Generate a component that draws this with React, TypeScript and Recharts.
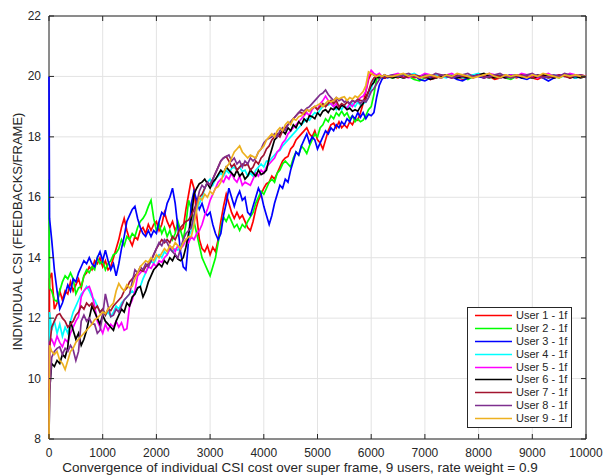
import React from 'react';
import { LineChart, Line, XAxis, YAxis, CartesianGrid, Legend, ReferenceArea } from 'recharts';

const INK = '#262626';
const FONT = '"Liberation Sans", Arial, Helvetica, sans-serif';
const PLOT_TOP = 16;
const PLOT_BOTTOM = 439;
const TICK_LEN = 5;

// super frame index: dense while the users converge, coarser once flat
const frames = [
  0,
  10,
  ...Array.from({ length: 126 }, (_, i) => 50 + 50 * i),
  ...Array.from({ length: 37 }, (_, i) => 6400 + 100 * i),
];

const xTicks = [0, 1000, 2000, 3000, 4000, 5000, 6000, 7000, 8000, 9000, 10000];
const yTicks = [8, 10, 12, 14, 16, 18, 20, 22];

const user1 = [
  8, 13.3,
  13.5, 12.3, 12.5, 12.9, 12.6, 12.9, 12.8, 13.2, 12.9, 13.1,
  13.3, 13.0, 13.4, 13.5, 13.7, 13.6, 13.9, 13.8, 14.0, 13.7,
  13.9, 13.6, 13.7, 14.0, 14.3, 14.6, 15.0, 15.3, 14.9, 14.6,
  14.4, 14.7, 14.6, 14.9, 15.0, 14.8, 15.1, 14.9, 15.1, 15.2,
  14.9, 15.1, 15.5, 15.2, 15.0, 15.2, 14.9, 15.1, 14.9, 15.0,
  15.6, 16.1, 16.6, 16.3, 15.4, 14.6, 14.3, 14.2, 14.4, 14.1,
  14.35, 14.2, 14.6, 15.2, 15.7, 16.1, 15.8, 15.5, 15.3, 15.5,
  15.3, 15.4, 15.2, 15.0, 14.9, 15.2, 15.6, 15.9, 16.1, 16.3,
  16.45, 16.5, 16.7, 16.6, 16.8, 17.0, 17.2, 17.3, 17.35, 17.6,
  17.7, 17.9, 18.0, 18.1, 18.2, 18.3, 18.1, 18.0, 18.2, 17.9,
  17.8, 17.6, 17.9, 18.2, 18.4, 18.45, 18.3, 18.5, 18.3, 18.4,
  18.3, 18.5, 18.4, 18.6, 18.55, 18.8, 19.1, 19.5, 19.9, 20.1,
  20.05, 20.0, 20.05, 20.0, 19.95, 20.0,
  20.0, 19.95, 20.05, 20.0, 19.95, 20.0, 20.05, 19.9, 19.95, 20.0,
  20.05, 19.95, 20.0, 19.9, 19.95, 20.05, 20.0, 19.95, 20.0, 19.9,
  19.95, 20.0, 20.05, 19.95, 20.0, 20.05, 19.95, 19.9, 20.0, 20.05,
  19.95, 20.0, 20.05, 19.95, 20.0, 20.05, 20.0,
];

const user2 = [
  16.6, 13.0,
  12.9, 12.6, 12.55, 12.9, 13.2, 13.4, 13.3, 13.5, 13.3, 12.8,
  13.0, 13.05, 13.4, 13.6, 13.5, 13.7, 13.6, 14.0, 13.8, 13.9,
  13.6, 13.8, 13.9, 14.1, 14.15, 14.3, 14.6, 14.4, 14.7, 14.6,
  14.8, 14.7, 15.0, 15.2, 15.3, 15.45, 15.7, 15.9, 15.3, 14.9,
  15.1, 14.8, 15.0, 14.7, 14.9, 14.6, 14.8, 15.2, 14.9, 14.6,
  15.1, 15.9, 15.6, 15.2, 14.8, 14.4, 14.0, 13.8, 13.6, 13.4,
  13.7, 14.0, 14.5, 15.0, 15.35, 15.2, 15.4, 15.2, 15.0, 15.1,
  14.9, 15.1, 15.0, 15.2, 15.35, 15.5, 15.8, 16.0, 16.2, 16.1,
  16.3, 16.5, 16.6, 16.5, 16.8, 16.9, 17.1, 17.2, 17.1, 17.0,
  17.3, 17.5, 17.4, 17.7, 17.6, 17.45, 17.7, 17.9, 18.1, 18.0,
  18.3, 18.4, 18.6, 18.5, 18.7, 18.6, 18.8, 18.7, 18.85, 18.7,
  18.8, 18.6, 18.7, 18.5, 18.6, 18.5, 18.55, 18.7, 18.9, 19.0,
  19.4, 19.9, 20.0, 19.95, 20.05, 20.0,
  19.95, 20.0, 20.05, 20.0, 19.9, 19.85, 19.95, 20.0, 20.05, 19.95,
  20.0, 20.05, 19.95, 20.0, 19.9, 20.0, 20.05, 20.0, 19.95, 20.0,
  20.05, 19.95, 19.9, 20.0, 20.05, 20.0, 19.95, 20.0, 20.05, 19.95,
  20.0, 19.95, 20.05, 20.0, 19.95, 20.0, 20.0,
];

const user3 = [
  20, 15.3,
  14.6, 13.6, 12.9, 12.3, 12.5, 12.8, 13.1, 12.9, 13.3, 13.2,
  13.5, 13.7, 13.9, 13.8, 14.0, 13.8, 13.7, 14.0, 14.2, 13.9,
  14.25, 13.9, 13.6, 13.8, 13.4, 13.8, 14.3, 14.7, 15.2, 15.4,
  15.6, 15.7, 15.3, 15.0, 14.8, 14.7, 14.9, 14.7, 14.9, 14.8,
  15.2, 15.5, 15.4, 15.8, 16.0, 16.3, 15.8, 15.0, 14.2, 13.7,
  13.6, 14.6, 15.8, 16.2, 15.9, 15.6, 15.8, 15.5, 15.4, 15.5,
  15.1, 14.8, 14.6, 14.8, 15.4, 15.8, 16.3, 16.0, 15.7, 16.0,
  16.2, 15.9, 16.0, 15.5, 15.4, 15.7, 16.0, 16.3, 16.1, 15.7,
  15.4, 15.1, 15.4, 15.8, 16.1, 16.4, 16.3, 16.6, 16.5, 16.9,
  17.2, 17.5, 17.4, 17.7, 17.9, 18.1, 17.8, 18.0, 17.9, 17.6,
  17.8, 18.0, 18.2, 18.1, 18.3, 18.2, 18.4, 18.3, 18.5, 18.4,
  18.6, 18.5, 18.7, 18.6, 18.8, 18.65, 18.8, 18.6, 18.75, 18.7,
  18.8, 19.3, 19.7, 19.9, 20.0, 19.95,
  20.0, 20.05, 19.95, 20.0, 20.05, 19.9, 19.85, 19.95, 20.0, 19.95,
  20.05, 20.0, 19.9, 19.85, 19.95, 20.05, 20.0, 19.95, 20.05, 20.0,
  19.95, 20.0, 20.05, 20.0, 19.95, 19.9, 20.0, 20.05, 19.95, 19.85,
  19.95, 20.0, 20.05, 20.0, 19.95, 20.0, 19.97,
];

const user4 = [
  8, 12.2,
  11.6, 11.9, 11.5, 11.8, 11.4, 11.7, 11.5, 11.9, 12.2, 12.4,
  12.6, 12.8, 12.9, 13.05, 12.9, 12.7, 12.6, 12.4, 12.2, 12.3,
  12.1, 12.2, 12.05, 12.2, 12.4, 12.3, 12.5, 12.6, 12.7, 12.8,
  12.9, 12.8, 13.0, 13.05, 13.3, 13.5, 13.7, 13.9, 13.8, 14.0,
  14.1, 14.0, 14.2, 14.1, 14.3, 14.2, 14.3, 14.25, 14.4, 14.5,
  14.6, 14.7, 14.9, 15.3, 15.6, 15.8, 16.0, 16.3, 16.5, 16.6,
  16.4, 16.6, 16.7, 16.8, 16.7, 16.9, 16.8, 16.95, 17.0, 16.9,
  17.0, 16.85, 16.9, 16.7, 16.8, 16.7, 16.9, 17.0, 17.1, 17.0,
  17.2, 17.2, 17.3, 17.4, 17.5, 17.55, 17.7, 17.8, 17.9, 18.0,
  18.1, 18.2, 18.3, 18.4, 18.5, 18.6, 18.55, 18.7, 18.8, 18.75,
  18.9, 19.0, 19.1, 19.05, 19.1, 19.0, 18.9, 19.0, 18.9, 19.05,
  18.95, 19.0, 19.1, 19.0, 19.15, 19.05, 19.1, 19.15, 19.3, 19.6,
  19.85, 20.0, 20.05, 20.0, 20.05, 20.0,
  20.05, 20.0, 19.95, 20.05, 20.1, 20.0, 19.95, 20.0, 20.05, 20.0,
  19.95, 20.05, 20.0, 19.95, 20.0, 20.05, 20.1, 20.0, 19.95, 20.0,
  20.05, 20.0, 19.95, 20.0, 20.05, 20.0, 19.95, 20.05, 20.0, 19.95,
  20.05, 20.0, 20.0, 20.05, 19.95, 20.0, 20.02,
];

const user5 = [
  8, 11.2,
  11.3, 11.1, 11.4, 11.2, 11.05, 11.3, 11.2, 11.5, 11.7, 11.9,
  12.05, 12.7, 12.9, 13.0, 13.05, 12.8, 12.4, 11.9, 11.7, 11.5,
  11.8, 11.6, 11.8, 11.7, 11.9, 11.7, 11.85, 11.6, 11.65, 12.4,
  12.6, 12.9, 13.4, 13.5, 13.6, 13.5, 13.7, 13.65, 13.8, 13.7,
  13.9, 13.85, 14.0, 14.1, 14.3, 14.35, 14.2, 14.4, 14.3, 14.4,
  14.6, 14.5, 14.7, 14.6, 14.8, 14.9, 15.1, 15.4, 15.6, 15.9,
  16.1, 16.3, 16.5, 16.6, 16.5, 16.7, 16.6, 16.8, 16.6, 16.5,
  16.7, 16.4, 16.5, 16.45, 16.4, 16.6, 16.8, 16.7, 16.9, 16.8,
  17.0, 17.1, 17.2, 17.3, 17.5, 17.6, 17.8, 17.9, 18.1, 18.2,
  18.3, 18.4, 18.5, 18.6, 18.7, 18.8, 18.7, 18.9, 19.0, 18.9,
  19.1, 19.2, 19.35, 19.2, 19.1, 19.0, 19.1, 18.95, 19.05, 19.0,
  18.95, 19.1, 19.0, 19.15, 19.2, 19.3, 19.35, 19.5, 20.0, 20.2,
  20.1, 20.05, 20.1, 20.0, 20.05, 20.0,
  20.05, 20.1, 20.0, 19.95, 20.05, 20.0, 20.1, 20.05, 20.0, 19.95,
  20.05, 20.1, 20.0, 20.05, 19.95, 20.0, 20.05, 20.0, 20.1, 20.05,
  20.0, 19.95, 20.05, 20.0, 20.1, 20.05, 20.0, 19.95, 20.05, 20.1,
  20.0, 20.05, 20.0, 20.1, 20.05, 20.0, 20.03,
];

const user6 = [
  8, 9.6,
  10.5, 10.4, 10.6, 10.5, 10.8, 10.7, 11.05, 11.9, 11.6, 11.3,
  11.5, 11.1, 11.3, 11.6, 12.0, 12.4, 12.2, 12.0, 11.8, 12.1,
  11.9, 11.8, 11.7, 11.6, 11.9, 12.1, 12.3, 12.2, 12.5, 12.4,
  12.7, 12.8, 13.0, 13.05, 12.7, 12.9, 13.2, 13.4, 13.6, 13.7,
  13.8, 13.7, 13.9, 13.8, 14.0, 13.9, 14.1, 13.95, 13.9, 14.0,
  14.35, 14.8, 15.3, 16.1, 16.3, 16.45, 16.5, 16.6, 16.45, 16.3,
  16.5, 16.6, 16.75, 16.9, 16.8, 17.0, 16.9, 16.8, 16.7, 16.9,
  16.7, 16.8, 16.6, 16.7, 16.9, 16.8, 16.7, 16.9, 16.75, 16.8,
  16.9, 17.3, 17.6, 17.9, 18.0, 18.1, 18.2, 18.1, 18.3, 18.2,
  18.4, 18.3, 18.5, 18.4, 18.6, 18.5, 18.7, 18.67, 18.6, 18.8,
  18.7, 18.85, 18.9, 18.8, 18.95, 18.9, 19.0, 18.9, 19.05, 19.0,
  18.9, 18.95, 18.85, 18.9, 18.85, 19.0, 19.1, 19.3, 19.5, 19.7,
  19.8, 20.0, 19.95, 20.0, 19.95, 20.0,
  19.95, 20.0, 19.95, 20.0, 20.05, 19.95, 20.0, 19.9, 19.95, 20.0,
  20.05, 20.0, 19.95, 20.0, 19.95, 20.0, 20.05, 20.1, 20.0, 19.95,
  20.0, 19.95, 20.0, 20.05, 19.95, 20.0, 19.95, 20.0, 20.05, 20.0,
  19.95, 20.0, 20.05, 19.95, 20.0, 19.95, 20.0,
];

const user7 = [
  8, 11.0,
  11.7, 11.9, 12.1, 12.15, 12.0, 11.9, 11.7, 11.8, 11.9, 12.1,
  12.2, 12.4, 12.3, 12.5, 12.4, 12.5, 12.3, 12.4, 12.2, 12.3,
  12.1, 12.3, 12.25, 12.4, 12.5, 12.6, 12.7, 12.9, 13.0, 13.2,
  13.3, 13.4, 13.5, 13.6, 13.55, 13.7, 13.8, 13.9, 14.1, 14.3,
  14.45, 14.6, 14.5, 14.6, 14.5, 14.7, 14.6, 14.8, 15.0, 15.1,
  15.2, 15.25, 15.4, 15.6, 15.8, 16.0, 16.1, 16.3, 16.5, 16.4,
  16.6, 16.8, 17.0, 17.2, 17.3, 17.35, 17.2, 17.0, 17.1, 16.9,
  17.0, 17.1, 17.05, 17.1, 16.9, 17.0, 17.2, 17.1, 17.3, 17.4,
  17.6, 17.7, 17.9, 18.0, 18.1, 18.0, 18.2, 18.3, 18.4, 18.5,
  18.6, 18.7, 18.8, 18.8, 18.75, 18.9, 18.85, 18.95, 19.0, 18.9,
  19.0, 19.1, 19.0, 19.1, 19.2, 19.1, 19.2, 19.0, 19.1, 19.05,
  19.15, 19.1, 19.2, 19.15, 19.25, 19.2, 19.2, 19.25, 19.5, 19.8,
  19.95, 20.0, 20.05, 20.0, 19.95, 20.0,
  20.0, 20.05, 19.95, 20.0, 20.05, 20.0, 19.95, 20.0, 19.95, 20.05,
  20.0, 19.95, 20.05, 20.0, 20.0, 19.95, 20.05, 20.0, 19.95, 20.05,
  20.0, 20.05, 19.95, 20.0, 20.05, 20.0, 19.95, 20.05, 20.0, 19.95,
  20.0, 20.05, 20.0, 19.95, 20.05, 20.0, 20.0,
];

const user8 = [
  8, 9.5,
  10.7, 10.9, 11.0, 11.05, 10.8, 11.0, 10.9, 11.1, 10.95, 10.6,
  10.9, 11.9, 12.1, 11.9, 12.0, 11.8, 11.8, 11.5, 11.6, 12.1,
  12.8, 12.4, 12.05, 12.1, 12.3, 12.2, 12.4, 12.6, 12.7, 12.8,
  13.2, 13.6, 13.5, 13.7, 13.6, 13.8, 13.7, 13.9, 14.1, 14.3,
  14.5, 14.4, 14.6, 14.5, 14.3, 14.2, 14.1, 14.0, 14.3, 14.6,
  14.8, 14.9, 15.0, 15.4, 15.8, 16.2, 16.4, 16.3, 16.5, 16.4,
  16.6, 16.8, 17.0, 17.2, 17.3, 17.35, 17.4, 17.2, 17.3, 17.1,
  17.2, 17.0, 17.2, 17.1, 17.3, 17.2, 17.3, 17.5, 17.6, 17.8,
  17.9, 17.95, 18.0, 18.1, 18.0, 18.2, 18.3, 18.2, 18.4, 18.5,
  18.6, 18.7, 18.8, 18.9, 18.85, 18.95, 19.0, 19.1, 19.2, 19.3,
  19.4, 19.45, 19.55, 19.4, 19.3, 19.2, 19.3, 19.2, 19.25, 19.15,
  19.2, 19.1, 19.2, 19.15, 19.2, 19.1, 19.2, 19.15, 19.3, 19.5,
  19.6, 19.75, 19.9, 20.0, 20.05, 20.0,
  20.05, 20.0, 20.05, 20.1, 20.0, 19.95, 20.05, 20.0, 20.1, 20.05,
  20.0, 19.95, 20.0, 20.05, 20.1, 20.0, 20.05, 19.95, 20.0, 20.05,
  20.1, 20.0, 19.95, 20.05, 20.0, 20.05, 20.1, 20.0, 19.95, 20.0,
  20.05, 20.0, 20.1, 20.05, 20.0, 20.05, 20.0,
];

const user9 = [
  8, 11.1,
  10.9, 10.8, 10.9, 10.6, 10.5, 10.3, 10.6, 10.9, 11.0, 11.2,
  11.3, 11.4, 11.5, 11.6, 11.7, 11.8, 11.95, 12.0, 12.1, 12.2,
  12.15, 12.3, 12.4, 12.5, 12.9, 13.15, 13.0, 12.9, 13.1, 13.0,
  13.05, 13.3, 13.5, 13.7, 13.8, 13.9, 13.85, 14.0, 13.9, 14.1,
  14.0, 14.15, 14.3, 14.2, 14.4, 14.3, 14.5, 14.4, 14.3, 14.5,
  14.6, 14.7, 14.7, 15.1, 15.6, 16.0, 15.9, 16.1, 16.0, 16.2,
  16.1, 16.3, 16.35, 16.5, 16.8, 17.0, 17.1, 17.3, 17.5, 17.6,
  17.7, 17.5, 17.4, 17.3, 17.4, 17.35, 17.3, 17.5, 17.6, 17.7,
  17.9, 18.0, 18.1, 18.0, 18.2, 18.3, 18.2, 18.4, 18.5, 18.4,
  18.6, 18.55, 18.67, 18.7, 18.8, 18.9, 18.85, 18.95, 19.0, 19.05,
  19.1, 19.0, 19.1, 19.2, 19.15, 19.2, 19.3, 19.25, 19.3, 19.33,
  19.2, 19.3, 19.25, 19.35, 19.3, 19.4, 19.5, 19.7, 20.15, 20.1,
  20.05, 20.0, 20.05, 20.0, 20.05, 20.0,
  20.0, 20.05, 20.1, 20.0, 20.05, 19.95, 20.0, 20.05, 20.0, 19.95,
  20.05, 20.0, 20.1, 20.05, 20.0, 19.95, 20.0, 20.05, 20.1, 20.0,
  19.95, 20.05, 20.0, 20.05, 20.0, 19.95, 20.05, 20.0, 20.1, 20.05,
  20.0, 19.95, 20.05, 20.0, 20.05, 20.0, 20.0,
];

const users = [
  { key: 'u1', name: 'User 1 - 1f', color: '#ff0000', values: user1 },
  { key: 'u2', name: 'User 2 - 1f', color: '#00ff00', values: user2 },
  { key: 'u3', name: 'User 3 - 1f', color: '#0000ff', values: user3 },
  { key: 'u4', name: 'User 4 - 1f', color: '#00ffff', values: user4 },
  { key: 'u5', name: 'User 5 - 1f', color: '#ff00ff', values: user5 },
  { key: 'u6', name: 'User 6 - 1f', color: '#000000', values: user6 },
  { key: 'u7', name: 'User 7 - 1f', color: '#a2142f', values: user7 },
  { key: 'u8', name: 'User 8 - 1f', color: '#7e2f8e', values: user8 },
  { key: 'u9', name: 'User 9 - 1f', color: '#edb120', values: user9 },
];

const rows = frames.map((x, i) => {
  const row: Record<string, number> = { x };
  users.forEach((u) => {
    if (u.values[i] !== undefined) row[u.key] = u.values[i];
  });
  return row;
});

function XTick(props: any) {
  const { x, y, payload } = props;
  return (
    <g>
      <line x1={x} y1={PLOT_BOTTOM} x2={x} y2={PLOT_BOTTOM - TICK_LEN} stroke={INK} />
      <line x1={x} y1={PLOT_TOP} x2={x} y2={PLOT_TOP + TICK_LEN} stroke={INK} />
      <text x={x} y={y + 16} textAnchor="middle" fill={INK} fontSize={12} fontFamily={FONT}>
        {payload.value}
      </text>
    </g>
  );
}

function YTick(props: any) {
  const { x, y, payload } = props;
  return (
    <g>
      <line x1={49} y1={y} x2={49 + TICK_LEN} y2={y} stroke={INK} />
      <line x1={586} y1={y} x2={586 - TICK_LEN} y2={y} stroke={INK} />
      <text x={x - 6} y={y + 4} textAnchor="end" fill={INK} fontSize={12} fontFamily={FONT}>
        {payload.value}
      </text>
    </g>
  );
}

function YTitle(props: any) {
  const vb = props.viewBox || { x: 0, y: PLOT_TOP, height: PLOT_BOTTOM - PLOT_TOP };
  const cy = vb.y + vb.height / 2 + 4;
  return (
    <text
      transform={`translate(17, ${cy}) rotate(-90)`}
      textAnchor="middle"
      dominantBaseline="central"
      fill={INK}
      fontSize={13}
      fontFamily={FONT}
    >
      INDIVIDUAL CSI (FEEDBACKS/FRAME)
    </text>
  );
}

function XTitle() {
  return (
    <text x={300} y={472} textAnchor="middle" fill={INK} fontSize={13.5} fontFamily={FONT}>
      Convergence of individual CSI cost over super frame, 9 users, rate weight = 0.9
    </text>
  );
}

function LegendBox() {
  return (
    <div
      style={{
        boxSizing: 'border-box',
        width: 105,
        height: 121,
        border: `1px solid ${INK}`,
        background: '#fff',
        paddingTop: 1,
        fontFamily: FONT,
      }}
    >
      {users.map((u) => (
        <div key={u.key} style={{ display: 'flex', alignItems: 'center', height: 12.9 }}>
          <svg width={37} height={3} style={{ marginLeft: 7, marginRight: 4, flex: '0 0 auto', display: 'block' }}>
            <line x1={0} y1={1.5} x2={37} y2={1.5} stroke={u.color} strokeWidth={1.5} />
          </svg>
          <span style={{ fontSize: 11, color: INK, lineHeight: '12.9px', whiteSpace: 'nowrap' }}>{u.name}</span>
        </div>
      ))}
    </div>
  );
}

export default function App() {
  return (
    <div style={{ position: 'absolute', left: 0, top: 0, width: 603, height: 475, background: '#fff' }}>
      <LineChart width={603} height={475} data={rows} margin={{ top: PLOT_TOP, right: 17, bottom: 0, left: 0 }}>
        <CartesianGrid stroke="#e3e3e3" strokeWidth={1} />
        <XAxis
          type="number"
          dataKey="x"
          domain={[0, 10000]}
          ticks={xTicks}
          interval={0}
          height={36}
          axisLine={false}
          tickLine={false}
          tickSize={0}
          tick={<XTick />}
          label={<XTitle />}
        />
        <YAxis
          type="number"
          domain={[8, 22]}
          ticks={yTicks}
          interval={0}
          width={49}
          axisLine={false}
          tickLine={false}
          tickSize={0}
          tick={<YTick />}
          label={<YTitle />}
        />
        {users.map((u) => (
          <Line
            key={u.key}
            type="linear"
            dataKey={u.key}
            name={u.name}
            stroke={u.color}
            strokeWidth={1.7}
            strokeLinejoin="miter"
            dot={false}
            activeDot={false}
            isAnimationActive={false}
          />
        ))}
        <ReferenceArea x1={0} x2={10000} y1={8} y2={22} fill="none" stroke={INK} strokeWidth={1} fillOpacity={0} />
        <Legend
          layout="vertical"
          align="center"
          verticalAlign="middle"
          content={() => <LegendBox />}
          wrapperStyle={{ position: 'absolute', left: 467, top: 307, width: 105, height: 121 }}
        />
      </LineChart>
    </div>
  );
}
